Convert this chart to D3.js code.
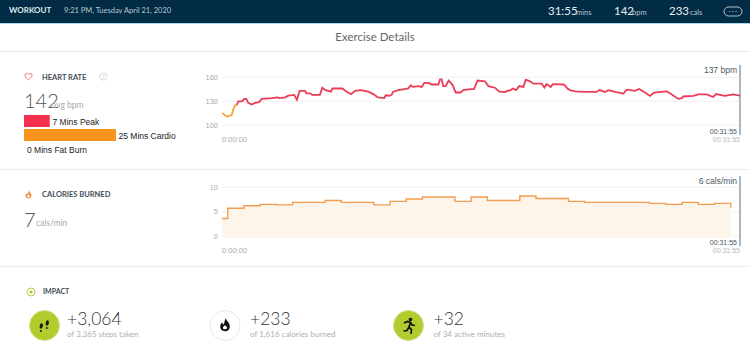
<!DOCTYPE html>
<html>
<head>
<meta charset="utf-8">
<script src="https://cdn.jsdelivr.net/npm/d3@7"></script>
<style>
  html, body { margin: 0; padding: 0; background: #fff; overflow: hidden; }
  svg { display: block; font-family: Lato, sans-serif; }
</style>
</head>
<body>
<div id="chart"></div>
<script>
// heart rate: seconds since start / bpm
const heartTimes = [1, 11, 21, 36, 41, 48, 55, 60, 75, 82, 90, 97, 110, 122, 137, 147, 184, 206, 214, 233, 245, 267, 277, 287, 307, 312, 326, 334, 362, 371, 383, 403, 408, 445, 461, 477, 492, 514, 541, 559, 576, 600, 605, 621, 627, 633, 652, 669, 688, 698, 706, 725, 738, 748, 765, 775, 800, 806, 812, 818, 827, 838, 853, 864, 882, 892, 911, 932, 945, 972, 985, 1009, 1025, 1046, 1055, 1067, 1075, 1087, 1099, 1114, 1123, 1139, 1151, 1182, 1192, 1200, 1215, 1223, 1264, 1277, 1287, 1305, 1342, 1385, 1395, 1416, 1428, 1453, 1484, 1496, 1527, 1542, 1564, 1582, 1597, 1644, 1656, 1687, 1700, 1705, 1742, 1761, 1792, 1816, 1826, 1860, 1890, 1915]
const heartBpm = [115.4, 112.5, 111, 113, 119, 125, 125.5, 130, 130, 133, 133, 128, 126, 128, 129, 133, 134, 135, 134, 135, 137, 138, 132, 143, 143, 140, 140, 138, 138, 147, 144, 142, 146, 146, 142, 139, 143, 144, 142, 139, 135, 134, 137.5, 137, 138, 142, 144, 145, 146, 150, 148, 149, 148, 153, 153, 151, 151, 157.5, 157.5, 149, 149, 156, 150, 141, 141, 144, 145, 145.5, 156, 155, 149, 147, 142, 141.5, 143, 144, 146, 144, 149, 148, 157, 155, 152, 152, 147, 151.5, 148, 151.5, 151, 146, 144, 142.5, 141.7, 141.7, 144, 141.7, 144, 141.7, 139.6, 144.6, 143, 145.4, 141, 136.7, 141, 142.5, 140, 133, 134, 136, 136.7, 138.7, 138.7, 135.4, 139, 136.7, 138.7, 137]
const cardioUntil = 55

// calories, one step per minute
const calTimes = [0, 21, 81, 141, 201, 261, 321, 381, 441, 501, 561, 621, 681, 741, 801, 861, 921, 981, 1041, 1101, 1161, 1221, 1281, 1341, 1401, 1461, 1521, 1581, 1641, 1701, 1761, 1821, 1881]
const calValues = [3.6, 5.7, 6.2, 6.5, 6.4, 6.9, 6.9, 7.3, 6.9, 6.9, 6.4, 7.1, 7.6, 8.0, 8.0, 7.1, 8.0, 7.3, 7.3, 8.2, 7.7, 7.7, 7.1, 6.9, 6.9, 6.9, 6.9, 6.7, 6.5, 6.9, 6.5, 6.7, 5.8]

const heartTicks = [100, 130, 160]
const calTicks = [0, 5, 10]

const zoneMinutes = [7, 25, 0]
const zoneLabels = ['7 Mins Peak', '25 Mins Cardio', '0 Mins Fat Burn']
const zoneColors = ['#f5304f', '#f7931e', '#ccc']

const impactValues = ['+3,064', '+233', '+32']
const impactLabels = ['of 3,365 steps taken', 'of 1,616 calories burned', 'of 34 active minutes']

const headerStats = [
  { value: '31:55', unit: 'mins', x: 548, ux: 576 },
  { value: '142', unit: 'bpm', x: 614, ux: 632 },
  { value: '233', unit: 'cals', x: 669, ux: 690 },
]

const width = 750
const height = 353

const svg = d3.select('#chart').append('svg').attr('width', width).attr('height', height)

function label(x, y, str, { size = 10, color = '#333', weight = 400, anchor = 'start', family = null } = {}) {
  return svg
    .append('text')
    .attr('x', x)
    .attr('y', y)
    .attr('font-size', size)
    .attr('fill', color)
    .attr('font-weight', weight)
    .attr('text-anchor', anchor)
    .style('font-family', family)
    .text(str)
}

function hline(y) {
  svg.append('rect').attr('x', 0).attr('y', y).attr('width', width).attr('height', 1).attr('fill', '#ececec')
}

// header bar
svg.append('rect').attr('width', width).attr('height', 23).attr('fill', '#022c45')
svg.append('rect').attr('y', 23).attr('width', width).attr('height', 1).attr('fill', '#a8d8ea')
label(9, 13, 'WORKOUT', { size: 8, color: '#dfe6ea', weight: 700 })
label(64, 13, '9:21 PM, Tuesday April 21, 2020', { size: 7.5, color: '#b9c6cf' })
headerStats.forEach(d => {
  label(d.x, 15, d.value, { size: 11.5, color: '#e6ecef' })
  label(d.ux, 14.5, d.unit, { size: 7.5, color: '#b9c6cf' })
})
svg.append('rect').attr('x', 724).attr('y', 7).attr('width', 18).attr('height', 9).attr('rx', 4.5)
  .attr('fill', 'none').attr('stroke', '#dfe6ea').attr('stroke-width', 0.8)
svg.selectAll('circle.menu-dot').data([-3, 0, 3]).join('circle').attr('class', 'menu-dot')
  .attr('cx', d => 733 + d).attr('cy', 11.5).attr('r', 0.6).attr('fill', '#dfe6ea')

label(375, 41, 'Exercise Details', { size: 11.5, color: '#666', anchor: 'middle' })
hline(51)
hline(169)
hline(266)

// scales
const xScale = d3.scaleLinear().domain([0, 1915]).range([222, 740])
const yHeart = d3.scaleLinear().domain([100, 160]).range([125.3, 77.3])
const yCal = d3.scaleLinear().domain([0, 10]).range([236, 187.3])
const zoneScale = d3.scaleLinear().domain([0, 25]).range([0, 92])

function yGrid(scale, ticks) {
  const g = svg.append('g')
  g.selectAll('line').data(ticks).join('line')
    .attr('x1', 222).attr('x2', 740)
    .attr('y1', d => scale(d)).attr('y2', d => scale(d))
    .attr('stroke', '#f1f1f1')
  g.selectAll('text').data(ticks).join('text')
    .attr('x', 218).attr('y', d => scale(d) + 2.5)
    .attr('text-anchor', 'end').attr('font-size', 7.5).attr('fill', '#aaa')
    .style('font-family', 'Liberation Sans')
    .text(d => d)
}

function cursor(y1, y2, value, timeY) {
  svg.append('line').attr('x1', 740).attr('x2', 740).attr('y1', y1).attr('y2', y2)
    .attr('stroke', '#5f6e78').attr('stroke-width', 1)
  label(737, y1 + 8, value, { size: 8.5, color: '#4a5a66', anchor: 'end', family: 'Liberation Sans' })
  label(737, timeY, '00:31:55', { size: 7, color: '#4a5a66', anchor: 'end', family: 'Liberation Sans' })
  label(740, timeY + 7.5, '00:31:55', { size: 7, color: '#bbb', anchor: 'end', family: 'Liberation Sans' })
  label(222, timeY + 7.5, '0:00:00', { size: 7.5, color: '#aaa', family: 'Liberation Sans' })
}

// heart rate chart
yGrid(yHeart, heartTicks)
const heartData = heartTimes.map((t, i) => ({ t, v: heartBpm[i] }))
const heartLine = d3.line().x(d => xScale(d.t)).y(d => yHeart(d.v))
svg.append('path').attr('d', heartLine(heartData.filter(d => d.t >= cardioUntil)))
  .attr('fill', 'none').attr('stroke', '#ec3c58').attr('stroke-width', 1.8)
svg.append('path').attr('d', heartLine(heartData.filter(d => d.t <= cardioUntil)))
  .attr('fill', 'none').attr('stroke', '#f5a533').attr('stroke-width', 1.8)
cursor(65, 135, '137 bpm', 134)

// calories chart
yGrid(yCal, calTicks)
const calData = calTimes.map((t, i) => ({ t, v: calValues[i] }))
const calFill = d3.area().curve(d3.curveStepAfter).x(d => xScale(d.t)).y0(238).y1(d => yCal(d.v))
const calLine = d3.line().curve(d3.curveStepAfter).x(d => xScale(d.t)).y(d => yCal(d.v))
svg.append('path').attr('d', calFill(calData)).attr('fill', '#fef5ea')
svg.append('path').attr('d', calLine(calData)).attr('fill', 'none')
  .attr('stroke', '#f29d4f').attr('stroke-width', 1.4)
cursor(176, 246, '6 cals/min', 245)

// heart rate panel
svg.append('path')
  .attr('d', 'M28.5 79.8 C25 77 24.8 75.8 25 74.8 C25.4 73 27.6 72.8 28.5 74.4 C29.4 72.8 31.6 73 32 74.8 C32.2 75.8 32 77 28.5 79.8 Z')
  .attr('fill', 'none').attr('stroke', '#e8705f').attr('stroke-width', 1)
label(42, 79.5, 'HEART RATE', { size: 7.5, color: '#3f4d58', weight: 700 })
svg.append('circle').attr('cx', 103.5).attr('cy', 76.5).attr('r', 3.6).attr('fill', 'none').attr('stroke', '#ccc').attr('stroke-width', 0.7)
label(103.5, 78.5, '?', { size: 5.5, color: '#bbb', anchor: 'middle' })
label(24, 108, '142', { size: 20, color: '#555', weight: 300 })
label(52, 108, 'avg bpm', { size: 8.5, color: '#aaa' })

const zoneY = [115, 129]
svg.selectAll('rect.zone').data(zoneMinutes.slice(0, 2)).join('rect').attr('class', 'zone')
  .attr('x', 24).attr('y', (d, i) => zoneY[i])
  .attr('width', d => zoneScale(d)).attr('height', 12)
  .attr('fill', (d, i) => zoneColors[i])
label(52.5, 125, zoneLabels[0], { size: 8.5, color: '#222', family: 'Liberation Sans' })
label(118.5, 139, zoneLabels[1], { size: 8.5, color: '#222', family: 'Liberation Sans' })
label(27, 153, zoneLabels[2], { size: 8.5, color: '#222', family: 'Liberation Sans' })

// calories panel
function flame(x, y, color, scale = 1) {
  svg.append('path')
    .attr('transform', `translate(${x},${y}) scale(${scale})`)
    .attr('d', 'M0.5 -4.5 C1 -2.5 3 -1.8 3 0.6 C3 2.6 1.5 3.6 0 3.6 C-1.6 3.6 -3 2.5 -3 0.7 C-3 -0.6 -2.2 -1.4 -1.7 -2 C-1.6 -1 -1.2 -0.6 -0.7 -0.6 C-0.3 -1.8 -0.3 -3.2 0.5 -4.5 Z M0 -0.2 C-1 0.5 -1.3 1 -1.3 1.4 C-1.3 2 -0.7 2.4 0 2.4 C0.7 2.4 1.3 2 1.3 1.4 C1.3 0.9 0.8 0.4 0 -0.2 Z')
    .attr('fill-rule', 'evenodd')
    .attr('fill', color)
}
flame(28.5, 195, '#ee8a45')
label(42, 197, 'CALORIES BURNED', { size: 7.5, color: '#3f4d58', weight: 700 })
label(24, 227, '7', { size: 20, color: '#555', weight: 300 })
label(36, 226, 'cals/min', { size: 8.5, color: '#aaa' })

// impact panel
svg.append('circle').attr('cx', 31).attr('cy', 292).attr('r', 4).attr('fill', 'none').attr('stroke', '#b8cf3a').attr('stroke-width', 1)
svg.append('circle').attr('cx', 31).attr('cy', 292).attr('r', 1.5).attr('fill', '#a8c22a')
label(43, 293.5, 'IMPACT', { size: 7, color: '#3f4d58', weight: 700 })

const impactX = [67, 250, 433.5]
const badgeX = [44.5, 225, 408.5]
const badgeFill = ['#b2cb2d', '#fff', '#b2cb2d']
svg.selectAll('circle.badge').data(badgeX).join('circle').attr('class', 'badge')
  .attr('cx', d => d).attr('cy', 325.5).attr('r', 15)
  .attr('fill', (d, i) => badgeFill[i])
  .attr('stroke', (d, i) => (i === 1 ? '#e9e9e9' : '#d3e08a'))
  .attr('stroke-width', 1)

impactValues.forEach((d, i) => {
  label(impactX[i], 325, d, { size: 17.5, color: '#333', weight: 300 })
  label(impactX[i], 337, impactLabels[i], { size: 8, color: '#aeaeae' })
})

// footprints
const prints = [[-3.2, 1.5, 1], [2.8, -1.5, 1]]
prints.forEach(([dx, dy]) => {
  svg.append('ellipse').attr('cx', 44.5 + dx).attr('cy', 324.5 + dy).attr('rx', 1.6).attr('ry', 2.8)
    .attr('transform', `rotate(12 ${44.5 + dx} ${324.5 + dy})`).attr('fill', '#1a1a1a')
  svg.append('circle').attr('cx', 44 + dx).attr('cy', 329.5 + dy).attr('r', 1).attr('fill', '#1a1a1a')
})

// flame badge
flame(225, 325.5, '#111', 1.6)

// runner
svg.append('circle').attr('cx', 410.5).attr('cy', 319.5).attr('r', 1.8).attr('fill', '#111')
svg.append('path')
  .attr('d', 'M404 323 L407.5 321.5 L410.5 322.5 L409 327 L411.5 329.5 L411 334 M409 327 L407 330.5 L403.5 331 M410.5 322.5 L412 325 L415 325.5')
  .attr('fill', 'none').attr('stroke', '#111').attr('stroke-width', 1.7)
</script>
</body>
</html>
